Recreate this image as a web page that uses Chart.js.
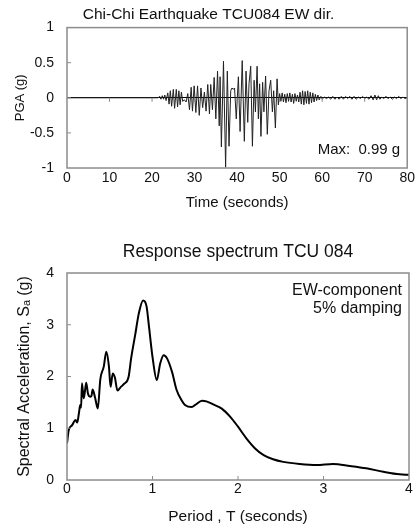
<!DOCTYPE html>
<html>
<head>
<meta charset="utf-8">
<title>Chi-Chi Earthquake TCU084</title>
<script src="https://cdn.jsdelivr.net/npm/chart.js@4.4.0/dist/chart.umd.min.js"></script>
<style>
    html, body { margin: 0; padding: 0; background: #fff; }
    .page { position: relative; width: 417px; height: 531px; }
    .box { position: absolute; left: 0; width: 417px; }
    #accBox { top: 0; height: 215px; }
    #specBox { top: 228px; height: 303px; }
</style>
</head>
<body>
<div class="page">
    <div class="box" id="accBox"><canvas id="accChart"></canvas></div>
    <div class="box" id="specBox"><canvas id="specChart"></canvas></div>
</div>
<script>
// Ground motion record (time in s, acceleration in g)
var timeSec = [0, 21.4, 21.8, 22.1, 22.4, 22.7, 23.0, 23.3, 23.7, 24.0, 24.3, 24.6, 25.0, 25.3, 25.7, 26.0, 26.3, 26.6, 26.9, 27.2,
    27.6, 28.0, 28.4, 28.8, 29.2, 29.5, 29.9, 30.3, 30.7, 31.1, 31.5, 31.9, 32.3, 32.7, 33.1, 33.5, 33.8, 34.2, 34.6, 35.0,
    35.4, 35.8, 36.0, 36.3, 36.8, 37.3, 37.7, 38.1, 38.5, 38.8, 39.1, 39.4, 39.8, 40.3, 40.7, 41.2, 41.7, 42.1, 42.5, 42.8,
    43.2, 43.6, 44.0, 44.3, 44.7, 45.0, 45.3, 45.6, 46.0, 46.3, 46.7, 47.1, 47.5, 47.9, 48.3, 48.6, 49.0, 49.4, 49.7, 50.0,
    50.3, 50.6, 50.9, 51.2, 51.5, 51.8, 52.1, 52.4, 52.7, 53.0, 53.3, 53.6, 53.9, 54.2, 54.5, 54.8, 55.1, 55.4, 55.7, 56.0,
    56.3, 56.6, 56.9, 57.2, 57.5, 57.8, 58.1, 58.4, 58.7, 59.0, 59.3, 59.7, 60.0, 60.5, 61.0, 61.5, 62.0, 62.5, 63.0, 63.5,
    64.0, 64.5, 65.0, 65.5, 66.0, 66.5, 67.0, 67.5, 68.0, 68.5, 69.0, 69.5, 70.0, 70.5, 71.0, 71.5, 72.0, 72.4, 72.8, 73.2,
    73.6, 74.0, 74.5, 75.0, 75.5, 76.0, 76.5, 77.0, 77.5, 78.0, 78.5, 79.0, 79.5, 80.0];
var pgaG = [0, 0, 0.02, -0.02, 0.03, -0.02, 0.04, -0.04, 0.07, -0.09, 0.10, -0.12, 0.12, -0.15, 0.12, -0.13, 0.10, -0.10, 0.08, -0.05,
    -0.03, -0.06, 0.06, -0.17, 0.15, -0.19, 0.17, -0.21, 0.17, -0.25, 0.14, -0.14, 0.08, -0.19, 0.19, -0.23, 0.19, -0.17, 0.29, -0.30,
    0.38, -0.40, 0.30, -0.70, 0.52, -0.99, 0.38, -0.69, 0.10, 0.14, 0.12, 0.14, -0.30, 0.30, -0.48, 0.53, -0.62, 0.38, -0.35, 0.20,
    0.45, -0.69, 0.25, -0.20, 0.45, -0.30, 0.20, -0.55, 0.22, -0.20, 0.31, -0.52, 0.10, 0.25, -0.20, 0.10, -0.43, 0.27, -0.10, 0.06,
    -0.05, 0.07, -0.06, 0.05, -0.07, 0.06, -0.05, 0.07, -0.06, 0.05, -0.08, 0.06, -0.05, 0.04, -0.06, 0.08, -0.09, 0.10, -0.10, 0.09,
    -0.08, 0.10, -0.09, 0.08, -0.07, 0.07, -0.06, 0.05, -0.04, 0.04, -0.03, 0.02, -0.02, 0.01, -0.01, 0.01, -0.02, 0.02, -0.02, 0.01,
    -0.02, 0.02, -0.02, 0.02, -0.01, 0.02, -0.02, 0.02, -0.02, 0.01, -0.01, 0.02, -0.01, 0.01, -0.02, 0.03, -0.03, 0.04, -0.03, 0.03,
    -0.02, 0.01, -0.01, 0.02, -0.01, 0.01, -0.02, 0.01, -0.01, 0.02, -0.01, 0.01, -0.01, 0];

// Response spectrum, EW component, 5% damping (period in s, Sa in g)
var periodSec = [0, 0.02, 0.06, 0.10, 0.12, 0.14, 0.155, 0.165, 0.175, 0.195, 0.21, 0.225, 0.245, 0.27, 0.285, 0.30, 0.33, 0.36, 0.39, 0.43,
    0.46, 0.49, 0.51, 0.535, 0.56, 0.59, 0.63, 0.67, 0.72, 0.75, 0.80, 0.84, 0.89, 0.93, 0.96, 1.00, 1.05, 1.09, 1.13, 1.17,
    1.23, 1.28, 1.34, 1.38, 1.46, 1.50, 1.58, 1.63, 1.71, 1.81, 1.91, 2.00, 2.10, 2.20, 2.30, 2.41, 2.53, 2.72, 2.92, 3.11,
    3.31, 3.50, 3.70, 3.89, 4.00];
var spectralAcc = [0.71, 0.96, 1.06, 1.16, 1.11, 1.30, 1.45, 1.40, 1.87, 1.58, 1.72, 1.88, 1.67, 1.61, 1.62, 1.75, 1.58, 1.38, 1.95, 2.19,
    2.48, 2.20, 1.80, 2.06, 1.98, 1.73, 1.80, 1.86, 1.99, 2.35, 2.83, 3.22, 3.47, 3.36, 2.95, 2.38, 1.93, 2.25, 2.41, 2.35,
    2.08, 1.75, 1.54, 1.45, 1.41, 1.45, 1.53, 1.52, 1.46, 1.38, 1.22, 1.03, 0.80, 0.61, 0.48, 0.40, 0.35, 0.31, 0.29, 0.31,
    0.27, 0.225, 0.16, 0.11, 0.10];

var accNote = ['Max:  0.99 g'];
var specNote = ['EW-component', '5% damping'];

(function () {
    "use strict";

    var fontFamily = "'Liberation Sans', Arial, sans-serif";
    var ink = "#111";

    // Chart Global
    Chart.defaults.color = ink;
    Chart.defaults.font.family = fontFamily;
    Chart.defaults.animation = false;

    function toPoints(xs, ys) {
        return xs.map(function (x, i) { return {x: x, y: ys[i]}; });
    }

    // plain number labels: 1, 0.5, -1 (not 1.0, -1.0)
    function plainTick(value) {
        return String(Math.round(value * 100) / 100);
    }

    // Grey frame round the plot, little tick marks and the note in the corner
    var framePlugin = {
        id: 'frame',
        afterDraw: function (chart, args, opts) {
            var ctx = chart.ctx;
            var a = chart.chartArea;
            var xs = chart.scales.x;
            var ys = chart.scales.y;
            ctx.save();
            ctx.strokeStyle = '#8c8c8c';
            ctx.lineWidth = 1.5;
            ctx.strokeRect(a.left, a.top, a.right - a.left, a.bottom - a.top);

            ctx.lineWidth = 1;
            ctx.beginPath();
            var base = ys.getPixelForValue(opts.tickBase);
            xs.ticks.forEach(function (t) {
                var px = xs.getPixelForValue(t.value);
                if (px <= a.left + 1 || px >= a.right - 1) return;
                ctx.moveTo(px, base);
                ctx.lineTo(px, base + opts.tickDir * 4);
            });
            ys.ticks.forEach(function (t) {
                var py = ys.getPixelForValue(t.value);
                if (py <= a.top + 1 || py >= a.bottom - 1) return;
                ctx.moveTo(a.left, py);
                ctx.lineTo(a.left + 4, py);
            });
            ctx.stroke();

            ctx.fillStyle = ink;
            ctx.font = opts.noteSize + 'px ' + fontFamily;
            ctx.textAlign = 'right';
            ctx.textBaseline = 'middle';
            opts.note.forEach(function (line, i) {
                ctx.fillText(line, a.right - 7, a.top + opts.noteTop + i * opts.noteGap);
            });
            ctx.restore();
        }
    };


    // Acceleration time history
    var accChart = new Chart(document.getElementById('accChart'), {
        type: 'line',
        data: {
            datasets: [{
                data: toPoints(timeSec, pgaG),
                borderColor: '#222',
                borderWidth: 1,
                pointRadius: 0,
                tension: 0
            }]
        },
        options: {
            responsive: true,
            maintainAspectRatio: false,
            layout: {padding: {left: 8, right: 8, top: 0, bottom: 0}},
            plugins: {
                legend: {display: false},
                tooltip: {enabled: false},
                title: {
                    display: true,
                    text: 'Chi-Chi Earthquake TCU084 EW dir.',
                    color: ink,
                    font: {size: 15.5, weight: 'normal'},
                    padding: {top: 5, bottom: 4}
                },
                frame: {note: accNote, noteSize: 15, noteTop: 122, noteGap: 0, tickBase: 0, tickDir: 1}
            },
            scales: {
                x: {
                    type: 'linear',
                    min: 0,
                    max: 80,
                    ticks: {stepSize: 10, font: {size: 14}, padding: 2, maxRotation: 0, callback: plainTick},
                    grid: {display: false, drawTicks: false},
                    border: {display: false},
                    title: {display: true, text: 'Time (seconds)', font: {size: 15}, padding: {top: 0, bottom: 3}},
                    afterFit: function (s) { s.height = 47; }
                },
                y: {
                    min: -1,
                    max: 1,
                    ticks: {stepSize: 0.5, font: {size: 14}, padding: 13, callback: plainTick},
                    grid: {
                        drawTicks: false,
                        lineWidth: 1,
                        color: function (c) { return c.tick && c.tick.value === 0 ? '#000' : 'rgba(0,0,0,0)'; }
                    },
                    border: {display: false},
                    title: {display: true, text: 'PGA (g)', font: {size: 13}, padding: {top: 5, bottom: 0}},
                    afterFit: function (s) { s.width = 59; }
                }
            }
        },
        plugins: [framePlugin]
    });


    // Response spectrum
    var specChart = new Chart(document.getElementById('specChart'), {
        type: 'line',
        data: {
            datasets: [{
                data: toPoints(periodSec, spectralAcc),
                borderColor: '#000',
                borderWidth: 2,
                pointRadius: 0,
                cubicInterpolationMode: 'monotone'
            }]
        },
        options: {
            responsive: true,
            maintainAspectRatio: false,
            layout: {padding: {left: 0, right: 8, top: 0, bottom: 0}},
            plugins: {
                legend: {display: false},
                tooltip: {enabled: false},
                title: {
                    display: true,
                    fullSize: false,
                    text: 'Response spectrum TCU 084',
                    color: ink,
                    font: {size: 17.5, weight: 'normal'},
                    padding: {top: 14, bottom: 10}
                },
                frame: {note: specNote, noteSize: 16, noteTop: 18, noteGap: 17.6, tickBase: 0, tickDir: -1}
            },
            scales: {
                x: {
                    type: 'linear',
                    min: 0,
                    max: 4,
                    ticks: {stepSize: 1, font: {size: 14}, padding: 1, maxRotation: 0, callback: plainTick},
                    grid: {display: false, drawTicks: false},
                    border: {display: false},
                    title: {display: true, text: 'Period , T (seconds)', font: {size: 15.5}, padding: {top: 0, bottom: 5}},
                    afterFit: function (s) { s.height = 51; }
                },
                y: {
                    min: 0,
                    max: 4,
                    ticks: {stepSize: 1, font: {size: 14}, padding: 13, callback: plainTick},
                    grid: {display: false, drawTicks: false},
                    border: {display: false},
                    title: {display: true, text: 'Spectral Acceleration, S\u2090 (g)', font: {size: 16}, padding: {top: 15, bottom: 0}},
                    afterFit: function (s) { s.width = 67; }
                }
            }
        },
        plugins: [framePlugin]
    });

})();
</script>
</body>
</html>
